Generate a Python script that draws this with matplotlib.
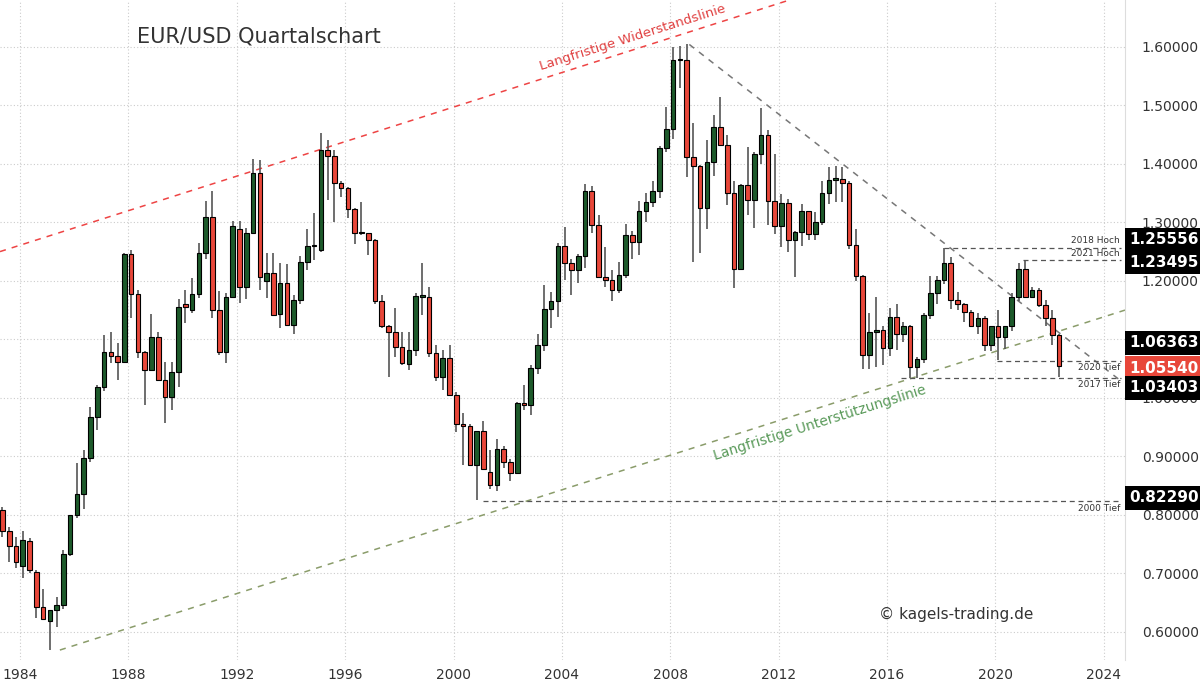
import matplotlib
matplotlib.use("Agg")
import matplotlib.pyplot as plt
import matplotlib.transforms as mtransforms

# EUR/USD quarterly candles (open, high, low, close), first quarter ~1983
opens = [.827,.808,.772,.746,.712,.756,.702,.642,.619,.637,.646,.734,.800,.836,.897,.968,1.019,1.078,1.071,1.061,
         1.246,1.178,1.078,1.047,1.104,1.031,1.002,1.045,1.160,1.150,1.178,1.247,1.309,1.150,1.079,1.173,1.288,1.190,1.282,1.385,
         1.200,1.214,1.144,1.197,1.125,1.168,1.232,1.259,1.253,1.424,1.413,1.368,1.358,1.323,1.282,1.281,1.269,1.166,1.122,1.112,
         1.087,1.058,1.082,1.173,1.173,1.076,1.036,1.068,1.005,.956,.952,.885,.943,.874,.851,.912,.891,.872,.991,.988,
         1.051,1.091,1.152,1.165,1.259,1.230,1.218,1.242,1.354,1.296,1.207,1.202,1.184,1.210,1.279,1.266,1.319,1.334,1.354,1.427,
         1.459,1.577,1.577,1.412,1.396,1.324,1.403,1.463,1.432,1.350,1.221,1.364,1.338,1.417,1.449,1.336,1.294,1.333,1.269,1.284,
         1.319,1.280,1.300,1.350,1.373,1.374,1.368,1.262,1.209,1.074,1.113,1.116,1.085,1.139,1.109,1.123,1.052,1.066,1.142,1.180,
         1.201,1.231,1.168,1.161,1.146,1.122,1.136,1.091,1.122,1.104,1.123,1.173,1.220,1.172,1.185,1.159,1.136,1.108]
highs = [.840,.814,.780,.763,.772,.760,.706,.673,.637,.660,.740,.800,.888,.911,.985,1.022,1.108,1.112,1.093,1.247,
         1.253,1.184,1.080,1.144,1.113,1.062,1.062,1.169,1.185,1.205,1.264,1.336,1.353,1.182,1.180,1.302,1.302,1.290,1.408,1.406,
         1.247,1.248,1.230,1.229,1.176,1.243,1.288,1.316,1.452,1.440,1.424,1.370,1.360,1.325,1.334,1.282,1.272,1.176,1.124,1.153,
         1.113,1.113,1.180,1.230,1.190,1.090,1.081,1.091,1.010,.975,.955,.943,.960,.911,.930,.918,.895,.993,1.022,1.056,
         1.110,1.193,1.181,1.265,1.292,1.237,1.246,1.366,1.362,1.313,1.258,1.218,1.232,1.298,1.285,1.337,1.351,1.370,1.430,1.497,
         1.600,1.602,1.605,1.470,1.398,1.441,1.484,1.515,1.450,1.370,1.365,1.428,1.420,1.495,1.457,1.417,1.348,1.340,1.285,1.332,
         1.320,1.317,1.370,1.395,1.397,1.395,1.370,1.288,1.210,1.145,1.172,1.122,1.153,1.160,1.130,1.125,1.070,1.145,1.209,1.208,
         1.256,1.240,1.181,1.163,1.150,1.145,1.140,1.123,1.150,1.123,1.180,1.230,1.235,1.190,1.188,1.167,1.150,1.110]
lows = [.790,.763,.720,.709,.692,.700,.624,.622,.569,.608,.640,.730,.794,.810,.890,.945,1.011,1.059,1.031,1.059,
        1.136,1.068,.988,1.046,1.030,.957,.980,1.018,1.128,1.145,1.170,1.237,1.136,1.073,1.060,1.170,1.162,1.169,1.280,1.185,
        1.170,1.140,1.119,1.125,1.109,1.160,1.219,1.236,1.250,1.339,1.300,1.344,1.307,1.263,1.278,1.244,1.160,1.119,1.036,1.070,
        1.056,1.048,1.071,1.142,1.070,1.029,1.014,1.005,.942,.886,.885,.826,.878,.845,.840,.880,.858,.870,.980,.970,
        1.040,1.080,1.119,1.139,1.202,1.176,1.196,1.222,1.282,1.207,1.190,1.166,1.180,1.205,1.238,1.244,1.300,1.326,1.342,1.420,
        1.443,1.530,1.378,1.233,1.247,1.288,1.380,1.440,1.330,1.187,1.218,1.312,1.290,1.400,1.296,1.280,1.258,1.250,1.206,1.260,
        1.270,1.270,1.295,1.331,1.334,1.335,1.254,1.200,1.050,1.050,1.053,1.056,1.072,1.082,1.095,1.034,1.034,1.060,1.135,1.160,
        1.195,1.152,1.150,1.130,1.121,1.110,1.080,1.080,1.064,1.083,1.115,1.165,1.172,1.170,1.155,1.122,1.090,1.035]
closes = [.808,.772,.746,.720,.757,.705,.642,.622,.637,.646,.734,.800,.836,.897,.968,1.019,1.078,1.071,1.061,1.246,
          1.178,1.078,1.047,1.104,1.031,1.002,1.045,1.156,1.155,1.178,1.247,1.309,1.150,1.079,1.173,1.293,1.190,1.282,1.385,1.207,
          1.214,1.142,1.197,1.125,1.168,1.232,1.260,1.261,1.424,1.413,1.368,1.358,1.323,1.281,1.281,1.269,1.166,1.122,1.112,1.087,
          1.059,1.082,1.174,1.173,1.076,1.036,1.068,1.005,.956,.952,.885,.943,.878,.851,.912,.891,.872,.991,.988,1.051,
          1.091,1.152,1.165,1.259,1.230,1.218,1.242,1.354,1.296,1.207,1.202,1.184,1.210,1.279,1.266,1.319,1.334,1.354,1.427,1.459,
          1.577,1.577,1.412,1.396,1.324,1.403,1.463,1.432,1.350,1.221,1.364,1.338,1.417,1.449,1.336,1.294,1.333,1.269,1.284,1.319,
          1.280,1.300,1.350,1.373,1.374,1.368,1.262,1.209,1.074,1.113,1.116,1.085,1.139,1.109,1.123,1.052,1.066,1.142,1.180,1.201,
          1.231,1.168,1.161,1.146,1.122,1.136,1.091,1.122,1.104,1.123,1.173,1.220,1.172,1.185,1.159,1.136,1.108,1.055]
first_quarter = 1983.1

year_ticks = [1984, 1988, 1992, 1996, 2000, 2004, 2008, 2012, 2016, 2020, 2024]
price_ticks = [0.6, 0.7, 0.8, 0.9, 1.0, 1.1, 1.2, 1.3, 1.4, 1.5, 1.6]

# marked levels: value, label, start year
level_vals = [1.25556, 1.23495, 1.06363, 1.03403, 0.82290]
level_names = ["2018 Hoch", "2021 Hoch", "2020 Tief", "2017 Tief", "2000 Tief"]
level_start = [2018.1, 2021.0, 2020.05, 2016.5, 2001.1]
last_price = 1.05540

resist_line = ([1983.26, 2012.4], [1.250, 1.680])
support_line = ([1985.47, 2024.78], [0.569, 1.150])
down_line = ([2008.7, 2024.6], [1.604, 1.030])

fig = plt.figure(figsize=(12, 6.87), dpi=100)
ax = fig.add_axes([0, 27/687, 1125/1200, 660/687])
ax.set_xlim(1983.26, 2024.78)
ax.set_ylim(0.552, 1.680)

up_col = "#1d5a2b"
dn_col = "#e8473a"
for i in range(len(closes)):
    x = first_quarter + 0.25 * i
    o, h, l, c = opens[i], highs[i], lows[i], closes[i]
    col = up_col if c >= o else dn_col
    ax.vlines(x, l, h, color="#555555", lw=1.2, zorder=3)
    ax.bar(x, abs(c - o) if abs(c - o) > 0.002 else 0.002, width=0.17, bottom=min(o, c),
           color=col, edgecolor="black", lw=0.8, zorder=4)

ax.plot(*resist_line, ls=(0, (4, 4)), color="#ee4444", lw=1.1, zorder=2)
ax.plot(*support_line, ls=(0, (4, 4)), color="#8a9c6a", lw=1.1, zorder=2)
ax.plot(*down_line, ls=(0, (4, 4)), color="#777777", lw=1.1, zorder=2)

for val, start in zip(level_vals, level_start):
    ax.plot([start, 2024.65], [val, val], ls=(0, (4, 3)), color="#555555", lw=0.9, zorder=2)

ax.text(2024.6, 1.25556 + 0.006, "2018 Hoch", ha="right", va="bottom", fontsize=6.5, color="#333333")
ax.text(2024.6, 1.23495 + 0.004, "2021 Hoch", ha="right", va="bottom", fontsize=6.5, color="#333333")
ax.text(2024.6, 1.06363 - 0.004, "2020 Tief", ha="right", va="top", fontsize=6.5, color="#333333")
ax.text(2024.6, 1.03403 - 0.004, "2017 Tief", ha="right", va="top", fontsize=6.5, color="#333333")
ax.text(2024.6, 0.82290 - 0.004, "2000 Tief", ha="right", va="top", fontsize=6.5, color="#333333")

ax.text(2006.6, 1.615, "Langfristige Widerstandslinie", color="#e04040", fontsize=9.5,
        rotation=17.5, ha="center", va="center")
ax.text(2013.5, 0.958, "Langfristige Unterstützungslinie", color="#5a9a5a", fontsize=10,
        rotation=17.5, ha="center", va="center")
ax.text(1988.3, 1.617, "EUR/USD Quartalschart", fontsize=15, color="#333333", ha="left", va="center")
ax.text(2015.7, 0.630, "© kagels-trading.de", fontsize=11, color="#333333", ha="left", va="center")

ax.set_xticks(year_ticks)
ax.set_yticks(price_ticks)
ax.grid(True, ls=(0, (1, 2)), color="#cccccc", lw=0.8)
ax.yaxis.tick_right()
ax.set_yticklabels([f"{p:.5f}" for p in price_ticks])
ax.tick_params(axis="both", length=0, labelsize=10, labelcolor="#333333")
ax.tick_params(axis="y", pad=12)
ax.tick_params(axis="x", pad=6)
for s in ["top", "left", "bottom"]:
    ax.spines[s].set_visible(False)
ax.spines["right"].set_color("#dddddd")

# price tags on the right, shifted apart like in the source chart
trans = mtransforms.blended_transform_factory(ax.transAxes, ax.transData)
tag_vals = [1.25556, 1.23495, 1.06363, last_price, 1.03403, 0.82290]
tag_pos = [1.270, 1.232, 1.094, 1.051, 1.017, 0.829]
tag_cols = ["black", "black", "black", dn_col, "black", "black"]
for val, pos, col in zip(tag_vals, tag_pos, tag_cols):
    ax.text(1.004, pos, f"{val:.5f}", transform=trans, ha="left", va="center", fontsize=11,
            fontweight="bold", color="white", clip_on=False, zorder=10,
            bbox=dict(boxstyle="square,pad=0.3", fc=col, ec="none"))

fig.savefig("out.png", dpi=100)
